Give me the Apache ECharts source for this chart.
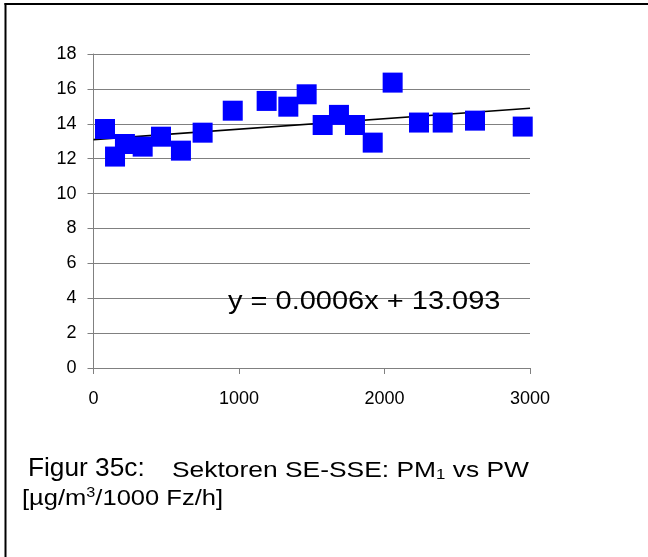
<!DOCTYPE html>
<html>
<head>
<meta charset="utf-8">
<script src="https://cdn.jsdelivr.net/npm/echarts@6/dist/echarts.min.js"></script>
<style>
  html, body { margin: 0; padding: 0; background: #fff; }
  #chart { width: 648px; height: 557px; }
</style>
</head>
<body>
<div id="chart"></div>
<script>
// PW (Fz/h) and PM1 (µg/m³) per sector sample
const pwValues = [79, 148, 216, 338, 464, 601, 750, 957, 1190, 1339, 1465, 1575, 1687, 1797, 1919, 2056, 2237, 2400, 2622, 2950];
const pm1Values = [13.70, 12.12, 12.84, 12.69, 13.26, 12.46, 13.49, 14.75, 15.31, 14.98, 15.69, 13.93, 14.51, 13.93, 12.92, 16.36, 14.07, 14.07, 14.18, 13.84];

// Linear fit y = slope * x + intercept
const trendSlope = 0.0006;
const trendIntercept = 13.093;
const trendRangeX = [0, 3000];

const xTicks = [0, 1000, 2000, 3000];
const yTicks = [0, 2, 4, 6, 8, 10, 12, 14, 16, 18];

const equationText = 'y = 0.0006x + 13.093';

const FONT = '"Liberation Sans", Arial, Helvetica, sans-serif';

const points = pwValues.map((x, i) => [x, pm1Values[i]]);
const trendPoints = trendRangeX.map(x => [x, trendSlope * x + trendIntercept]);

const chart = echarts.init(document.getElementById('chart'), null, { renderer: 'canvas' });

chart.setOption({
  backgroundColor: '#ffffff',
  animation: false,
  grid: { left: 93.5, top: 54, width: 436.5, height: 314, containLabel: false },
  xAxis: {
    type: 'value',
    min: xTicks[0],
    max: xTicks[xTicks.length - 1],
    interval: 1000,
    axisLine: { show: true, onZero: false, lineStyle: { color: '#808080', width: 1 } },
    axisTick: { show: true, inside: false, length: 6, lineStyle: { color: '#808080', width: 1 } },
    axisLabel: { color: '#000', fontFamily: FONT, fontSize: 18, margin: 22, formatter: v => String(v) },
    splitLine: { show: false }
  },
  yAxis: {
    type: 'value',
    min: yTicks[0],
    max: yTicks[yTicks.length - 1],
    interval: 2,
    axisLine: { show: true, lineStyle: { color: '#808080', width: 1 } },
    axisTick: { show: true, inside: false, length: 6, lineStyle: { color: '#808080', width: 1 } },
    axisLabel: { color: '#000', fontFamily: FONT, fontSize: 18, margin: 17, formatter: v => String(v) },
    splitLine: { show: true, lineStyle: { color: '#808080', width: 1.2 } }
  },
  series: [
    {
      type: 'line',
      data: trendPoints,
      showSymbol: false,
      symbol: 'none',
      lineStyle: { color: '#000', width: 1.6 },
      z: 3
    },
    {
      type: 'scatter',
      data: points,
      symbol: 'rect',
      symbolSize: 20,
      itemStyle: { color: '#0000ff', opacity: 1 },
      z: 4
    }
  ],
  graphic: [
    // frame edges
    { type: 'line', shape: { x1: 4.5, y1: 4, x2: 648, y2: 4 }, style: { stroke: '#000', lineWidth: 2 } },
    { type: 'line', shape: { x1: 5.5, y1: 3, x2: 5.5, y2: 557 }, style: { stroke: '#000', lineWidth: 2 } },
    // regression equation
    {
      type: 'text', x: 228, y: 290, scaleX: 1.16, z: 10,
      style: { text: equationText, fill: '#000', font: '25px ' + FONT }
    },
    // caption line 1
    {
      type: 'text', x: 28, y: 456, scaleX: 1.05, z: 10,
      style: {
        text: '{a|Figur 35c:}',
        rich: { a: { fontFamily: FONT, fontSize: 25, lineHeight: 26, verticalAlign: 'bottom', fill: '#000' } }
      }
    },
    {
      type: 'text', x: 172, y: 456, scaleX: 1.2, z: 10,
      style: {
        text: '{a|}{b|Sektoren SE-SSE: PM}{s|1}{b| vs PW}',
        rich: {
          a: { fontFamily: FONT, fontSize: 25, lineHeight: 26, verticalAlign: 'bottom', fill: '#000' },
          b: { fontFamily: FONT, fontSize: 22, lineHeight: 22, verticalAlign: 'bottom', fill: '#000' },
          s: { fontFamily: FONT, fontSize: 14, lineHeight: 7, verticalAlign: 'bottom', fill: '#000' }
        }
      }
    },
    // caption line 2
    {
      type: 'text', x: 22, y: 486, scaleX: 1.16, z: 10,
      style: {
        text: '{b|[µg/m}{p|3}{b|/1000 Fz/h]}',
        rich: {
          b: { fontFamily: FONT, fontSize: 22, lineHeight: 24, verticalAlign: 'bottom', fill: '#000' },
          p: { fontFamily: FONT, fontSize: 14, lineHeight: 14, verticalAlign: 'top', fill: '#000' }
        }
      }
    }
  ]
});
</script>
</body>
</html>
